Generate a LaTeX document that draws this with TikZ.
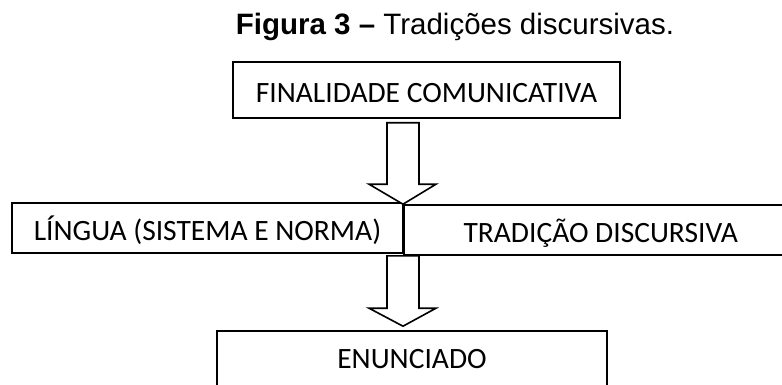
\documentclass[tikz,border=0pt]{standalone}
\usepackage{fontspec}
\setmainfont{Carlito}
\newfontfamily\arialfont{Liberation Sans}
\usetikzlibrary{calc}

\tikzset{
	caixa/.style = {draw, line width = 1.6pt, minimum height = 50pt, inner sep = 0pt, text height = 25pt, text depth = 0pt, font = \fontsize{29.5}{34}\selectfont},
	seta/.style = {draw, line width = 1.6pt, fill = white, line join = miter},
}

\begin{document}
\begin{tikzpicture}[x = 1pt, y = -1pt]
	\clip (0, 0) rectangle (782, 385);
	\fill [white] (0, 0) rectangle (782, 385);
	\node[font = \arialfont\fontsize{29.5}{34}\selectfont, anchor = base] (titulo) at (455, 35) {\textbf{Figura 3 –} Tradições discursivas.};
	% caixas
	\node[caixa, minimum width = 387pt, minimum height = 56pt] (finalidade) at (426.5, 90) {FINALIDADE COMUNICATIVA};
	\node[caixa, minimum width = 391pt] (lingua) at (207.5, 228) {LÍNGUA (SISTEMA E NORMA)};
	\node[caixa, minimum width = 394pt, anchor = west] (tradicao) at (403, 230) {TRADIÇÃO DISCURSIVA};
	\node[caixa, minimum width = 390pt, minimum height = 62pt, text height = 12.7pt] (enunciado) at (412, 362) {ENUNCIADO};
	% setas
	\coordinate (s1) at ($(finalidade.south -| tradicao.west) + (0, 4)$);
	\coordinate (p1) at (tradicao.north west);
	\coordinate (s2) at (tradicao.south west);
	\coordinate (p2) at ($(enunciado.north -| tradicao.west) + (0, -4)$);
	\foreach \ini/\fim/\cab in {s1/p1/20, s2/p2/18}{
		\draw[seta] ($(\ini) + (-16, 0)$) -- ($(\fim) + (-16, -\cab)$) -- ($(\fim) + (-34, -\cab)$) -- (\fim) -- ($(\fim) + (33, -\cab)$) -- ($(\fim) + (16, -\cab)$) -- ($(\ini) + (16, 0)$) -- cycle;}
\end{tikzpicture}
\end{document}
